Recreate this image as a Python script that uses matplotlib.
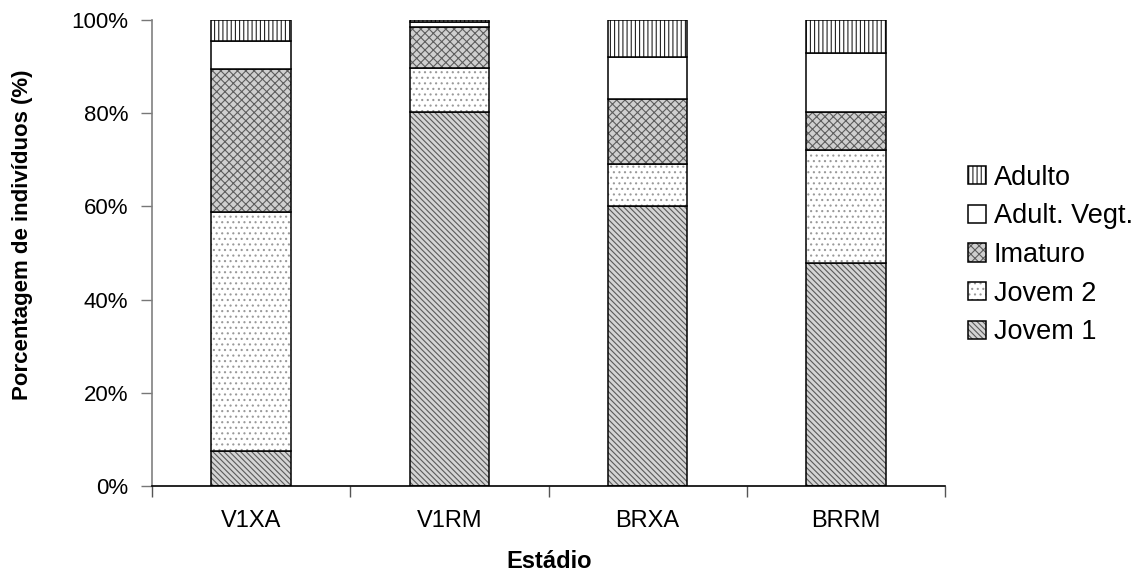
import matplotlib.pyplot as plt
import numpy as np
from matplotlib.patches import Patch
from matplotlib.ticker import PercentFormatter, FixedLocator
from matplotlib.legend_handler import HandlerTuple

plt.rcParams['font.family'] = ['Liberation Sans', 'DejaVu Sans']
plt.rcParams['hatch.linewidth'] = 0.8

estadios = ['V1XA', 'V1RM', 'BRXA', 'BRRM']
# percentages per stage, bottom to top
jovem_1 = [7.6, 80.3, 60.1, 47.8]
jovem_2 = [51.2, 9.3, 9.0, 24.3]
imaturo = [30.7, 9.0, 13.9, 8.2]
adult_vegt = [6.0, 1.0, 9.1, 12.6]
adulto = [4.5, 0.4, 7.9, 7.1]

series = [
    ('Jovem 1', jovem_1, '#d4d4d4', '\\\\\\\\\\\\', '#5a5a5a'),
    ('Jovem 2', jovem_2, 'white', '...', '#9a9a9a'),
    ('Imaturo', imaturo, '#cfcfcf', 'xxxx', '#5e5e5e'),
    ('Adult. Vegt.', adult_vegt, 'white', '', 'white'),
    ('Adulto', adulto, 'white', '||||', '#222222'),
]

fig = plt.figure(figsize=(11.4, 5.73), dpi=100)
ax = fig.add_axes([152 / 1140, 1 - 486 / 573, (945 - 152) / 1140, (486 - 20) / 573])

x = np.arange(len(estadios))
width = 0.40
bottom = np.zeros(len(estadios))
handles = []
for name, vals, fc, hatch, hc in series:
    vals = np.array(vals)
    ax.bar(x, vals, width, bottom=bottom, color=fc, hatch=hatch,
           edgecolor=hc, linewidth=0)
    ax.bar(x, vals, width, bottom=bottom, fill=False,
           edgecolor='black', linewidth=1.1)
    bottom += vals
    handles.append((Patch(facecolor=fc, hatch=hatch, edgecolor=hc, linewidth=0),
                    Patch(fill=False, edgecolor='black', linewidth=1.1)))

ax.set_xlim(-0.5, len(estadios) - 0.5)
ax.set_ylim(0, 100)
ax.yaxis.set_major_locator(FixedLocator([0, 20, 40, 60, 80, 100]))
ax.yaxis.set_major_formatter(PercentFormatter(100, decimals=0))

ax.set_xticks(x)
ax.set_xticklabels(estadios)
ax.set_xticks(np.arange(len(estadios) + 1) - 0.5, minor=True)
ax.tick_params(axis='x', which='major', length=0, pad=17.5, labelsize=17)
ax.tick_params(axis='x', which='minor', length=8, width=1, color='#555555')
ax.tick_params(axis='y', length=8, width=1, color='#777777', pad=9, labelsize=16)

for s in ['top', 'right']:
    ax.spines[s].set_visible(False)
ax.spines['left'].set_color('#808080')
ax.spines['left'].set_linewidth(1.2)
ax.spines['bottom'].set_color('black')
ax.spines['bottom'].set_linewidth(1.2)

fig.text(549 / 1140, 1 - 568 / 573, 'Estádio', fontsize=17, fontweight='bold',
         ha='center', va='baseline')
fig.text(23 / 1140, 1 - 235 / 573, 'Porcentagem de indivíduos (%)', fontsize=16,
         fontweight='bold', rotation=90, ha='center', va='center')

names = [s[0] for s in series]
leg = fig.legend(handles[::-1], names[::-1], loc='center left',
                 bbox_to_anchor=(968 / 1140, 1 - 255 / 573), frameon=False,
                 fontsize=19.5, handlelength=0.65, handleheight=0.65,
                 handletextpad=0.3, labelspacing=0.47, borderpad=0,
                 borderaxespad=0, handler_map={tuple: HandlerTuple(ndivide=1, pad=0)})

fig.savefig('out.png', dpi=100)
